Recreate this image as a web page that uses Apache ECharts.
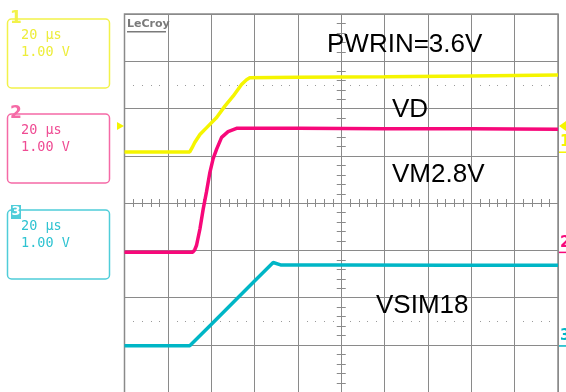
<!DOCTYPE html>
<html>
<head>
    <meta charset="utf-8">
    <title>LeCroy capture</title>
    <script type="text/javascript" src="https://cdn.jsdelivr.net/npm/echarts@6/dist/echarts.min.js"></script>
    <style>
        html, body { margin: 0; padding: 0; background: #ffffff; }
    </style>
</head>
<body>
<div id="main" style="width: 566px;height:392px;"></div>
<script type="text/javascript">
    // time axis in µs (20 µs/div), voltage axis in V (1 V/div)
    var xTicks = [0, 20, 40, 60, 80, 100, 120, 140, 160, 180, 200];
    var yTicks = [-4, -3, -2, -1, 0, 1, 2, 3, 4];

    // channel 1 (PWRIN), yellow
    var ch1Time  = [0, 30.1, 31.2, 32.4, 34.8, 37.8, 42.5, 46.3, 50.1, 54.0, 56.3, 57.8, 80, 120, 160, 200];
    var ch1Volts = [0, 0, 0.09, 0.20, 0.37, 0.51, 0.73, 0.97, 1.18, 1.43, 1.53, 1.57, 1.58, 1.59, 1.61, 1.63];
    // channel 2 (VD / VM2.8V), magenta
    var ch2Time  = [0, 31.5, 32.4, 33.2, 34.8, 36.3, 37.8, 39.4, 40.9, 42.5, 44.8, 47.8, 51.7, 80, 120, 160, 200];
    var ch2Volts = [0, 0, 0.05, 0.14, 0.49, 0.91, 1.27, 1.69, 1.98, 2.18, 2.43, 2.55, 2.62, 2.62, 2.61, 2.61, 2.60];
    // channel 3 (VSIM18), cyan
    var ch3Time  = [0, 30.1, 40, 50, 60, 68.6, 72, 100, 150, 200];
    var ch3Volts = [0, 0, 0.45, 0.91, 1.37, 1.76, 1.71, 1.71, 1.70, 1.70];

    // ground levels of each channel on screen (divisions from centre)
    var ch1Ground = 1.08;
    var ch2Ground = -1.04;
    var ch3Ground = -3.02;
    var trigLevel = 0.55;   // trigger level on ch1

    var labels = ['PWRIN=3.6V', 'VD', 'VM2.8V', 'VSIM18'];

    var yellow = '#f5f500';
    var magenta = '#f7087a';
    var cyan = '#00b6c6';
    var gridColor = '#8a8a8a';

    function pairs(t, v, g) {
        var out = [];
        for (var i = 0; i < t.length; i++) out.push([t[i], v[i] + g]);
        return out;
    }

    // centre cross with minor ticks and the two dotted rows
    function renderReticle(params, api) {
        var kids = [];
        var st = {stroke: gridColor, lineWidth: 1};
        for (var i = 1; i < 50; i++) {
            if (i % 5 === 0) continue;
            var p = api.coord([i * 4, 0]);
            var x = Math.round(p[0]) + 0.5;
            kids.push({type: 'line', shape: {x1: x, y1: p[1] - 4, x2: x, y2: p[1] + 4}, style: st});
            [2.5, -2.5].forEach(function (v) {
                var q = api.coord([i * 4, v]);
                kids.push({type: 'rect', shape: {x: Math.round(q[0]), y: Math.round(q[1]), width: 1, height: 1},
                    style: {fill: '#9a9a9a'}});
            });
        }
        for (var j = 1; j < 40; j++) {
            if (j % 5 === 0) continue;
            var c = api.coord([100, -4 + j * 0.2]);
            var y = Math.round(c[1]) + 0.5;
            kids.push({type: 'line', shape: {x1: c[0] - 4.5, y1: y, x2: c[0] + 4.5, y2: y}, style: st});
        }
        return {type: 'group', children: kids};
    }

    var myChart = echarts.init(document.getElementById('main'));

    var traceLine = function (name, color, data) {
        return {
            name: name, type: 'line', data: data, showSymbol: false, smooth: false,
            lineStyle: {color: color, width: 3.5}, z: 5, silent: true, clip: true
        };
    };

    function chBox(y, color, textColor, num, numStyle) {
        var els = [
            {type: 'rect', shape: {x: 7.5, y: y, width: 102, height: 69, r: 4},
                style: {fill: 'none', stroke: color, lineWidth: 1.5}},
            {type: 'text', x: 21, y: y + 16, style: {text: '20 \u00b5s', font: '13.5px "DejaVu Sans Mono"',
                fill: textColor, verticalAlign: 'middle'}},
            {type: 'text', x: 21, y: y + 33, style: {text: '1.00 V', font: '13.5px "DejaVu Sans Mono"',
                fill: textColor, verticalAlign: 'middle'}}
        ];
        if (numStyle === 'box') {
            els.push({type: 'rect', shape: {x: 11, y: y - 5, width: 10, height: 14}, style: {fill: color}});
            els.push({type: 'text', x: 16, y: y + 2, style: {text: num, font: 'bold 13px "DejaVu Sans"',
                fill: '#ffffff', align: 'center', verticalAlign: 'middle'}});
        } else {
            els.push({type: 'text', x: 16, y: y, style: {text: num, font: 'bold 17px "DejaVu Sans"',
                fill: color, align: 'center', verticalAlign: 'middle'}});
        }
        return els;
    }

    var option = {
        animation: false,
        backgroundColor: '#ffffff',
        grid: {left: 124.5, top: 14, width: 433.5, height: 380, containLabel: false},
        xAxis: {
            type: 'value', min: 0, max: 200, interval: 20,
            axisLine: {show: false}, axisTick: {show: false}, axisLabel: {show: false},
            splitLine: {show: true, lineStyle: {color: gridColor, width: 1}}
        },
        yAxis: {
            type: 'value', min: -4, max: 4, interval: 1,
            axisLine: {show: false}, axisTick: {show: false}, axisLabel: {show: false},
            splitLine: {show: true, lineStyle: {color: gridColor, width: 1}}
        },
        series: [
            {type: 'custom', renderItem: renderReticle, data: [[0, 0]], silent: true, z: 1, clip: false},
            traceLine('CH1', yellow, pairs(ch1Time, ch1Volts, ch1Ground)),
            traceLine('CH2', magenta, pairs(ch2Time, ch2Volts, ch2Ground)),
            traceLine('CH3', cyan, pairs(ch3Time, ch3Volts, ch3Ground))
        ]
    };

    myChart.setOption(option);

    // decorations placed from the axes
    function px(t, v) { return myChart.convertToPixel({gridIndex: 0}, [t, v]); }
    var right = px(200, 0)[0];
    var left = px(0, 0)[0];
    var g1 = px(200, ch1Ground)[1], g2 = px(200, ch2Ground)[1], g3 = px(200, ch3Ground)[1];
    var trg = px(0, ch1Ground + trigLevel)[1];

    var graphics = [
        // grid frame
        {type: 'rect', shape: {x: left, y: 14, width: right - left, height: 380},
            style: {fill: 'none', stroke: gridColor, lineWidth: 1.5}, z: 2},
        // logo
        {type: 'text', x: 127, y: 24, style: {text: 'LeCroy', font: 'bold 11px "DejaVu Sans"', fill: '#7a7a7a',
            verticalAlign: 'middle'}, z: 3},
        {type: 'rect', shape: {x: 127, y: 31, width: 39, height: 1.5}, style: {fill: '#7a7a7a'}, z: 3},
        // annotations
        {type: 'text', x: 327, y: 45, style: {text: labels[0], font: '26px "Liberation Sans"', fill: '#000', verticalAlign: 'middle'}, z: 6},
        {type: 'text', x: 392, y: 110, style: {text: labels[1], font: '26px "Liberation Sans"', fill: '#000', verticalAlign: 'middle'}, z: 6},
        {type: 'text', x: 392, y: 175, style: {text: labels[2], font: '26px "Liberation Sans"', fill: '#000', verticalAlign: 'middle'}, z: 6},
        {type: 'text', x: 376, y: 305.5, style: {text: labels[3], font: '26px "Liberation Sans"', fill: '#000', verticalAlign: 'middle'}, z: 6},
        // trigger arrows
        {type: 'polygon', shape: {points: [[117, trg - 4], [124, trg], [117, trg + 4]]}, style: {fill: yellow}, z: 6},
        {type: 'polygon', shape: {points: [[566, trg - 5], [559, trg], [566, trg + 5]]}, style: {fill: yellow}, z: 6},
        // ground markers on the right
        {type: 'text', x: 560, y: g1 - 2, style: {text: '1', font: 'bold 15px "DejaVu Sans"', fill: yellow, verticalAlign: 'bottom'}, z: 6},
        {type: 'rect', shape: {x: 559, y: g1 - 0.5, width: 7, height: 1.5}, style: {fill: yellow}, z: 6},
        {type: 'text', x: 560, y: g2 - 2, style: {text: '2', font: 'bold 15px "DejaVu Sans"', fill: magenta, verticalAlign: 'bottom'}, z: 6},
        {type: 'rect', shape: {x: 559, y: g2 - 0.5, width: 7, height: 1.5}, style: {fill: magenta}, z: 6},
        {type: 'text', x: 560, y: g3 - 2, style: {text: '3', font: 'bold 15px "DejaVu Sans"', fill: cyan, verticalAlign: 'bottom'}, z: 6},
        {type: 'rect', shape: {x: 559, y: g3 - 0.5, width: 7, height: 1.5}, style: {fill: cyan}, z: 6}
    ];
    graphics = graphics
        .concat(chBox(19, '#f2f24a', '#eded3a', '1', 'plain'))
        .concat(chBox(114, '#f56aa6', '#ef4b93', '2', 'plain'))
        .concat(chBox(210, '#4fcdd9', '#2ec3d1', '3', 'box'));

    myChart.setOption({graphic: graphics});
</script>
</body>
</html>
